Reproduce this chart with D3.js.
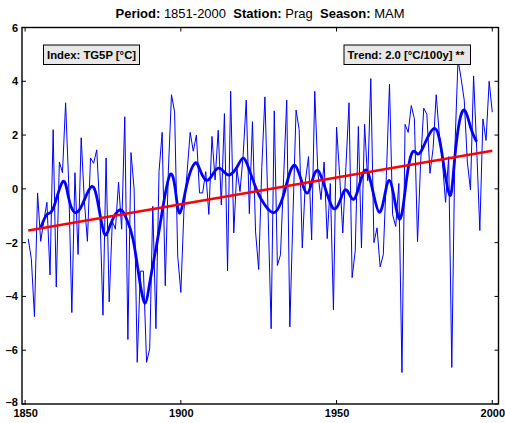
<!DOCTYPE html>
<html>
<head>
<meta charset="utf-8">
<script src="https://cdn.jsdelivr.net/npm/d3@7"></script>
<style>
  html, body { margin: 0; padding: 0; background: #fff; }
  svg { display: block; font-family: "Liberation Sans", Arial, Helvetica, sans-serif; }
</style>
</head>
<body>
<svg id="chart" width="505" height="423"></svg>
<script>
// ---------------- data ----------------
const years = d3.range(1851, 2001);
const values = [
  -1.86, -2.6, -4.75, -0.15, -1.95, -1.2, -0.5, -3.2, 2.2, -3.65,      // 1851-1860
  1.0, 0.6, 3.2, 0.2, -4.6, 0.6, -2.44, 1.9, -0.4, -1.95,              // 1861-1870
  1.15, 0.95, 1.45, -0.8, -4.7, 1.15, -4.2, -1.2, -1.5, 0.25,          // 1871-1880
  -1.5, 2.68, -5.6, 1.35, 0.0, -6.45, -3.06, -3.06, -6.45, -5.95,      // 1881-1890
  -0.65, -5.2, 0.65, 2.1, -3.6, 0.7, 3.5, 2.86, -2.5, -3.85,           // 1891-1900
  -0.8, 0.6, 2.1, 1.4, 2.0, -0.15, -0.15, 0.64, -0.95, 1.95,           // 1901-1910
  0.33, 2.18, -0.6, 2.8, -3.05, 3.63, -1.64, 0.75, -0.1, 1.23,         // 1911-1920
  3.3, -0.92, 2.5, -1.6, -3.0, 0.8, 3.42, -0.8, -5.2, 2.9,             // 1921-1930
  -2.85, -2.45, 0.4, 3.3, -5.13, -1.0, 2.93, 2.2, -2.2, 0.3,           // 1931-1940
  1.2, -1.9, 3.63, 0.6, -0.4, 1.0, -1.85, 0.2, -4.5, 2.3,              // 1941-1950
  0.5, -1.64, 0.8, 3.2, -3.3, -2.3, 2.32, -2.2, 2.4, 0.3,              // 1951-1960
  4.1, -2.0, -1.45, -2.9, -2.45, 0.5, 3.9, -0.96, -1.4, 0.2,           // 1961-1970
  -6.83, 2.4, 2.1, 3.1, 2.6, -1.97, 1.0, 3.0, 2.77, 0.58,              // 1971-1980
  1.5, 3.5, 2.0, 1.0, -0.5, 1.2, -6.64, 1.5, 4.8, 4.1,                 // 1981-1990
  3.3, 1.0, -0.04, 4.2, 1.5, -1.55, 2.6, 1.8, 4.0, 2.85                // 1991-2000
];

// smoothed curve at its turning points
const smoothYears = [1855, 1857, 1859.1, 1862.1, 1864, 1866, 1868.5, 1871.4, 1873.5, 1875.5,
  1877.5, 1880.4, 1882.5, 1884.7, 1886.9, 1888.6, 1890, 1892.2, 1894.3, 1896.5,
  1898.2, 1899.7, 1902, 1904.5, 1906, 1908, 1910, 1912, 1914, 1915.7,
  1918, 1920, 1922, 1924.8, 1927, 1930, 1933.3, 1936.8, 1940.6, 1944,
  1948.9, 1952.7, 1955.9, 1959.7, 1963.7, 1966.9, 1970, 1972.3, 1974.3, 1976,
  1978, 1981.5, 1984, 1986.4, 1988, 1990.5, 1993, 1995];
const smoothValues = [-1.45, -0.95, -0.7, 0.27, -0.35, -0.88, -0.55, 0.09, -0.6, -1.68,
  -1.3, -0.78, -1.1, -1.9, -3.5, -4.25, -3.5, -2.1, -0.65, 0.52,
  0.0, -0.9, 0.2, 0.95, 0.75, 0.33, 0.5, 0.77, 0.62, 0.52,
  0.8, 1.14, 0.7, -0.16, -0.6, -0.88, -0.1, 0.86, -0.16, 0.68,
  -0.72, -0.04, -0.35, 0.68, -0.87, 0.31, -1.1, 0.2, 1.35, 1.3,
  1.6, 2.25, 1.2, -0.25, 1.2, 2.9, 2.3, 1.75];

// linear trend end points
const trendYears = [1851, 2000];
const trendValues = [-1.55, 1.42];

const xTicks = [1850, 1900, 1950, 2000];
const yTicks = [-8, -6, -4, -2, 0, 2, 4, 6];
const titleParts = [
  {t: "Period:", b: true}, {t: " 1851-2000  ", b: false},
  {t: "Station:", b: true}, {t: " Prag  ", b: false},
  {t: "Season:", b: true}, {t: " MAM", b: false}
];
const legendIndex = "Index: TG5P [°C]";
const legendTrend = "Trend: 2.0 [°C/100y] **";

// ---------------- drawing ----------------
const svg = d3.select("#chart");
const L = 22, R = 498.5, T = 27.5, B = 404;
const x = d3.scaleLinear().domain([1849, 2002]).range([L, R]);
const y = d3.scaleLinear().domain([-8, 6]).range([B, T]);

svg.append("clipPath").attr("id", "plotclip")
  .append("rect").attr("x", L).attr("y", T).attr("width", R - L).attr("height", B - T);

const plot = svg.append("g").attr("clip-path", "url(#plotclip)");

// raw series
plot.append("path")
  .datum(years.map((yr, i) => [yr, values[i]]))
  .attr("fill", "none").attr("stroke", "#0000ff").attr("stroke-width", 1)
  .attr("d", d3.line().x(d => x(d[0])).y(d => y(d[1])));

// smoothed series
plot.append("path")
  .datum(smoothYears.map((yr, i) => [yr, smoothValues[i]]))
  .attr("fill", "none").attr("stroke", "#0000ff").attr("stroke-width", 2.8)
  .attr("d", d3.line().curve(d3.curveNatural).x(d => x(d[0])).y(d => y(d[1])));

// trend
plot.append("path")
  .datum(trendYears.map((yr, i) => [yr, trendValues[i]]))
  .attr("fill", "none").attr("stroke", "#ff0000").attr("stroke-width", 2.5)
  .attr("d", d3.line().x(d => x(d[0])).y(d => y(d[1])));

// axes box
const axisG = svg.append("g");
axisG.append("rect").attr("x", L).attr("y", T).attr("width", R - L).attr("height", B - T)
  .attr("fill", "none").attr("stroke", "#000").attr("stroke-width", 1.4);

const tl = 4;
const bottomAxis = d3.axisBottom(x).tickValues(xTicks).tickSize(0).tickPadding(5).tickFormat(d3.format("d"));
const gx = svg.append("g").attr("transform", `translate(0,${B})`).call(bottomAxis);
gx.select(".domain").remove();
gx.selectAll("text").attr("font-size", 11).attr("font-weight", "bold")
  .attr("font-family", "Liberation Sans, Arial, sans-serif").attr("fill", "#000");

const leftAxis = d3.axisLeft(y).tickValues(yTicks).tickSize(0).tickPadding(4)
  .tickFormat(d => d < 0 ? "\u2013" + Math.abs(d) : String(d));
const gy = svg.append("g").attr("transform", `translate(${L},0)`).call(leftAxis);
gy.select(".domain").remove();
gy.selectAll("text").attr("font-size", 11).attr("font-weight", "bold")
  .attr("font-family", "Liberation Sans, Arial, sans-serif").attr("fill", "#000");
// lift the lowest label slightly, as in the reference
gy.selectAll(".tick").filter(d => d === -8).select("text").attr("dy", "0.1em");

xTicks.forEach(v => {
  axisG.append("line").attr("x1", x(v)).attr("x2", x(v)).attr("y1", B).attr("y2", B - tl)
    .attr("stroke", "#000").attr("stroke-width", 1);
  axisG.append("line").attr("x1", x(v)).attr("x2", x(v)).attr("y1", T).attr("y2", T + tl)
    .attr("stroke", "#000").attr("stroke-width", 1);
});
yTicks.forEach(v => {
  axisG.append("line").attr("x1", L).attr("x2", L + tl).attr("y1", y(v)).attr("y2", y(v))
    .attr("stroke", "#000").attr("stroke-width", 1);
  axisG.append("line").attr("x1", R).attr("x2", R - tl).attr("y1", y(v)).attr("y2", y(v))
    .attr("stroke", "#000").attr("stroke-width", 1);
});

// title
const title = svg.append("text").attr("x", 260).attr("y", 18)
  .attr("text-anchor", "middle").attr("font-size", 13).attr("fill", "#000")
  .style("white-space", "pre");
titleParts.forEach(p => {
  title.append("tspan").text(p.t).attr("font-weight", p.b ? "bold" : "normal");
});

// legend boxes
function legendBox(x0, y0, w, h, label) {
  const g = svg.append("g");
  g.append("rect").attr("x", x0).attr("y", y0).attr("width", w).attr("height", h)
    .attr("fill", "#e8e8e8").attr("stroke", "#000").attr("stroke-width", 1);
  g.append("text").attr("x", x0 + 3.5).attr("y", y0 + h / 2 + 4)
    .attr("font-size", 11.3).attr("font-weight", "bold").attr("fill", "#000").text(label);
}
legendBox(43.5, 45, 96, 19.5, legendIndex);
legendBox(344, 45, 126.5, 19.5, legendTrend);
</script>
</body>
</html>
